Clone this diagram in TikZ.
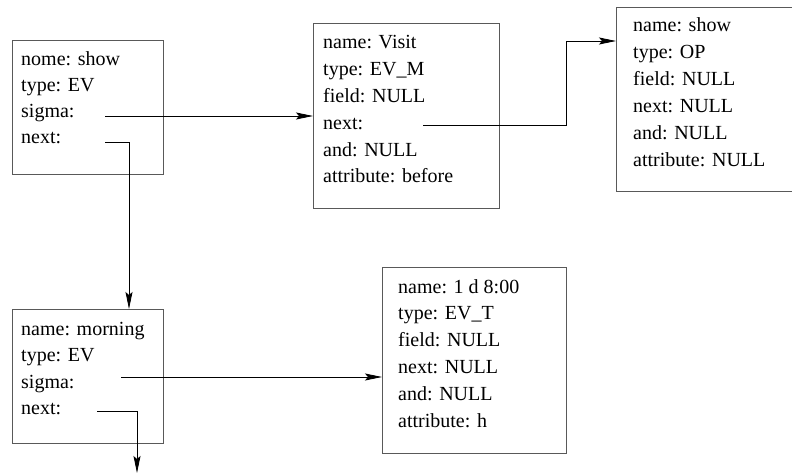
\documentclass[tikz,border=0pt]{standalone}
\usepackage{fontspec}
\setmainfont{Liberation Serif}
\usetikzlibrary{arrows.meta}
\begin{document}
\begin{tikzpicture}[x=1pt,y=-1pt,
  recbox/.style={draw=black!65,line width=1.1pt,inner sep=0pt,anchor=north west},
  lbl/.style={anchor=base west,inner sep=0pt,font=\fontsize{20}{24}\selectfont},
  conn/.style={line width=0.9pt,-{Stealth[length=17pt,width=7pt,inset=3pt]}},
  plain/.style={line width=0.9pt}]
\useasboundingbox (0,0) rectangle (792,473);
% boxes
\node[recbox,minimum width=151pt,minimum height=134pt] (b1) at (12,40) {};
\node[recbox,minimum width=186pt,minimum height=185pt] (b2) at (313,23) {};
\node[recbox,minimum width=176pt,minimum height=184pt] (b3) at (616,7) {};
\node[recbox,minimum width=151pt,minimum height=134pt] (b4) at (12,309) {};
\node[recbox,minimum width=184pt,minimum height=186pt] (b5) at (382,267) {};
% texts
\foreach[count=\i] \t in {nome: show, type: EV, sigma:, next:}
  \node[lbl] (a\i) at (21,{66+25.9*(\i-1)}) {\t};
\foreach[count=\i] \t in {name: Visit, type: EV\_M, field: NULL, next:, and: NULL, attribute: before}
  \node[lbl] (v\i) at (323,{48.5+26.9*(\i-1)}) {\t};
\foreach[count=\i] \t in {name: show, type: OP, field: NULL, next: NULL, and: NULL, attribute: NULL}
  \node[lbl] (s\i) at (633,{32+27*(\i-1)}) {\t};
\foreach[count=\i] \t in {name: morning, type: EV, sigma:, next:}
  \node[lbl] (m\i) at (21,{335+26.5*(\i-1)}) {\t};
\foreach[count=\i] \t in {name: 1 d 8:00, type: EV\_T, field: NULL, next: NULL, and: NULL, attribute: h}
  \node[lbl] (t\i) at (398,{293+26.8*(\i-1)}) {\t};
% connector start points
\coordinate (c1) at (105,116);
\coordinate (c2) at (105,142);
\coordinate (c2k) at (129,142);
\coordinate (c3) at (423,125);
\coordinate (c3k) at (566,125);
\coordinate (c3u) at (566,41);
\coordinate (c4) at (121,377);
\coordinate (c5) at (97,411);
\coordinate (c5k) at (137,411);
\coordinate (c5e) at (137,473);
% connectors
\draw[conn] (c1) -- (c1 -| b2.west);
\draw[conn] (c2) -- (c2k) -- (c2k |- b4.north);
\draw[conn] (c3) -- (c3k) -- (c3u) -- (c3u -| b3.west);
\draw[conn] (c4) -- (c4 -| b5.west);
\draw[conn] (c5) -- (c5k) -- (c5e);
\end{tikzpicture}
\end{document}
